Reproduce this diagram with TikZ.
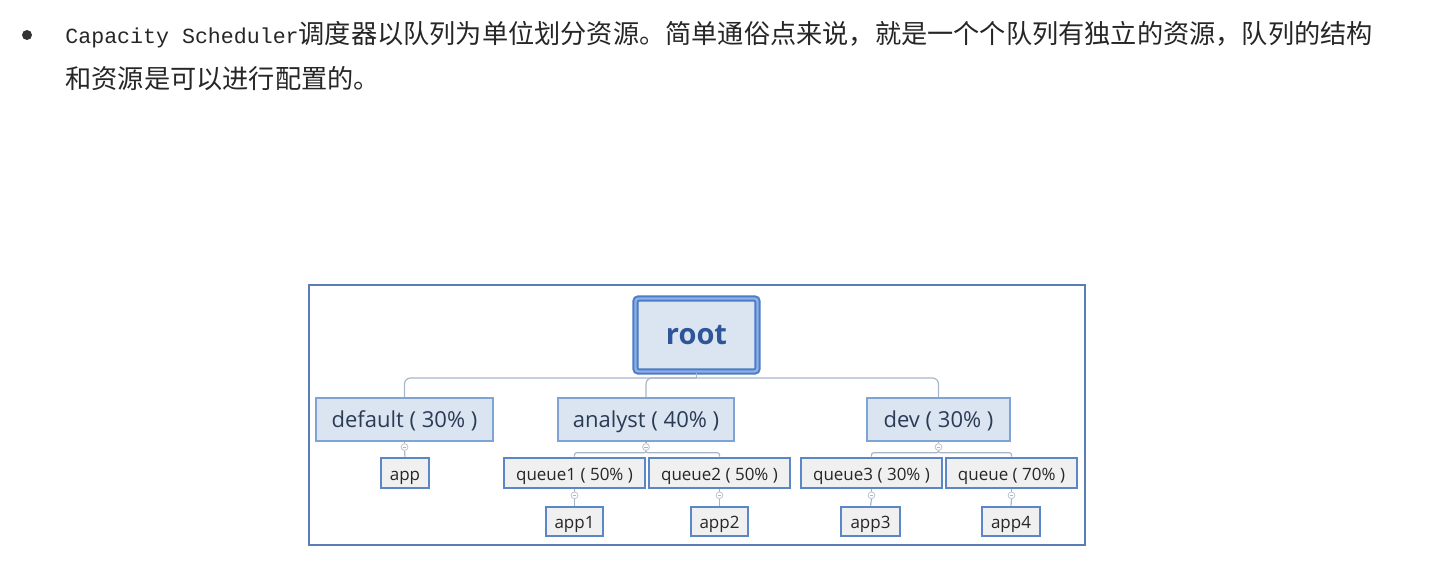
\documentclass[tikz,border=0pt]{standalone}
\usepackage{fontspec}
\setmainfont{Open Sans}
\newfontfamily\cjk{Noto Sans CJK SC}
\newfontfamily\codefont{Liberation Mono}
\usepackage{tikz}

\definecolor{framec}{HTML}{5A7EB3}
\definecolor{rootc}{HTML}{4A7CC8}
\definecolor{rootgap}{HTML}{8FB0E3}
\definecolor{boxfill}{HTML}{DBE5F1}
\definecolor{boxline}{HTML}{7EA3D4}
\definecolor{leaffill}{HTML}{F0F0F0}
\definecolor{leafline}{HTML}{5B87C6}
\definecolor{linkc}{HTML}{A8B6C8}
\definecolor{labelc}{HTML}{2B3A55}
\definecolor{rootlabel}{HTML}{2E5597}

\begin{document}
\begin{tikzpicture}[x=0.5pt, y=-0.5pt,
	rootbox/.style={draw=rootc, fill=boxfill, line width=1pt, double=rootgap, double distance=1.2pt, rounded corners=1.5pt, inner sep=0, minimum width=61pt, minimum height=36.5pt, text height=0.9em, text depth=0em, font=\bfseries\fontsize{14.5}{16}\selectfont, text=rootlabel},
	queuebox/.style={draw=boxline, fill=boxfill, line width=1pt, inner sep=0, minimum height=21.5pt, text height=0.85em, text depth=0.02em, font=\fontsize{11}{13}\selectfont, text=labelc},
	leafbox/.style={draw=leafline, fill=leaffill, line width=1.3pt, inner sep=0, text height=0.8em, text depth=0.06em, font=\fontsize{8.5}{10}\selectfont, text=black!85},
	link/.style={draw=linkc, line width=0.6pt, rounded corners=3pt},
	fold/.style={circle, draw=linkc!80, line width=0.4pt, fill=white, inner sep=0, minimum size=3.4pt,
		path picture={\draw[linkc, line width=0.3pt] ([xshift=0.8pt]path picture bounding box.west) -- ([xshift=-0.8pt]path picture bounding box.east);}}]
	\useasboundingbox (0,0) rectangle (1444,569);

	% intro text
	\node[circle, fill=black!80, inner sep=0, minimum size=5pt] (dot) at (27,35) {};
	\node[anchor=base west, inner sep=0, text=black!85] (line1) at (65,43) {\codefont\fontsize{10.8}{13}\selectfont Capacity Scheduler\cjk\fontsize{13.1}{16}\selectfont 调度器以队列为单位划分资源。简单通俗点来说，就是一个个队列有独立的资源，队列的结构};
	\node[anchor=base west, inner sep=0, text=black!85] (line2) at (65,88) {\cjk\fontsize{13.1}{16}\selectfont 和资源是可以进行配置的。};

	% frame
	\draw[framec, line width=0.8pt] (309,285) rectangle (1085,545);

	% queues
	\node[rootbox] (root) at (696.5,335) {root};
	\node[queuebox, minimum width=88.5pt] (default) at (404.5,419.5) {default ( 30\% )};
	\node[queuebox, minimum width=88pt] (analyst) at (646,419.5) {analyst ( 40\% )};
	\node[queuebox, minimum width=71.5pt] (dev) at (938.5,419.5) {dev ( 30\% )};

	\node[leafbox, minimum width=24pt, minimum height=15pt] (app) at (405,473) {app};
	\node[leafbox, minimum width=70.5pt, minimum height=15pt] (q1) at (574.5,473) {queue1 ( 50\% )};
	\node[leafbox, minimum width=70.5pt, minimum height=15pt] (q2) at (719.5,473) {queue2 ( 50\% )};
	\node[leafbox, minimum width=70.5pt, minimum height=15pt] (q3) at (871.5,473) {queue3 ( 30\% )};
	\node[leafbox, minimum width=65.5pt, minimum height=15pt] (q4) at (1011.5,473) {queue ( 70\% )};

	\node[leafbox, minimum width=28.5pt, minimum height=14.5pt] (app1) at (574.5,521.5) {app1};
	\node[leafbox, minimum width=28.5pt, minimum height=14.5pt] (app2) at (719.5,521.5) {app2};
	\node[leafbox, minimum width=29.5pt, minimum height=14.5pt] (app3) at (870.5,521.5) {app3};
	\node[leafbox, minimum width=29pt, minimum height=14.5pt] (app4) at (1011,521.5) {app4};

	% links
	\coordinate (bus) at (696.5,378);
	\draw[link] (root.south) -- (bus);
	\draw[link] (bus) -| (default.north);
	\draw[link] (bus) -| (analyst.north);
	\draw[link] (bus) -| (dev.north);

	\node[fold] (fd) at (404.5,447) {};
	\node[fold] (fa) at (646,447) {};
	\node[fold] (fv) at (938.5,447) {};
	\draw[link] (default.south) -- (fd.north);
	\draw[link] (analyst.south) -- (fa.north);
	\draw[link] (dev.south) -- (fv.north);
	\draw[link] (fd.south) -- (app.north);
	\draw[link, rounded corners=1pt] (fa.south) -- ++(0,2) -| (q1.north);
	\draw[link, rounded corners=1pt] (fa.south) -- ++(0,2) -| (q2.north);
	\draw[link, rounded corners=1pt] (fv.south) -- ++(0,2) -| (q3.north);
	\draw[link, rounded corners=1pt] (fv.south) -- ++(0,2) -| (q4.north);

	\foreach \q/\f/\a in {q1/f1/app1, q2/f2/app2, q3/f3/app3, q4/f4/app4} {
		\node[fold] (\f) at ([yshift=-3pt]\q.south) {};
		\draw[link] (\q.south) -- (\f.north);
		\draw[link] (\f.south) -- (\a.north);
	}
\end{tikzpicture}
\end{document}
